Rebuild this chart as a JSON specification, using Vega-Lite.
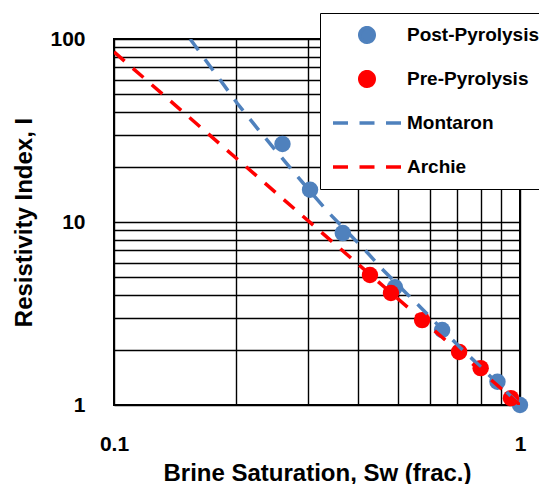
{
  "$schema": "https://vega.github.io/schema/vega-lite/v6.json",
  "width": 406,
  "height": 366,
  "autosize": {"type": "none"},
  "padding": {"left": 114, "top": 39, "right": 19, "bottom": 79},
  "background": "white",
  "config": {
    "font": "Liberation Sans",
    "view": {"stroke": "black", "strokeWidth": 2}
  },
  "datasets": {
    "pts": [
      {"sw": 0.26, "ri": 26.7, "series": "Post-Pyrolysis"},
      {"sw": 0.304, "ri": 15.0, "series": "Post-Pyrolysis"},
      {"sw": 0.366, "ri": 8.7, "series": "Post-Pyrolysis"},
      {"sw": 0.492, "ri": 4.4, "series": "Post-Pyrolysis"},
      {"sw": 0.643, "ri": 2.57, "series": "Post-Pyrolysis"},
      {"sw": 0.88, "ri": 1.34, "series": "Post-Pyrolysis"},
      {"sw": 1.0, "ri": 1.0, "series": "Post-Pyrolysis"},
      {"sw": 0.427, "ri": 5.13, "series": "Pre-Pyrolysis"},
      {"sw": 0.481, "ri": 4.09, "series": "Pre-Pyrolysis"},
      {"sw": 0.574, "ri": 2.91, "series": "Pre-Pyrolysis"},
      {"sw": 0.708, "ri": 1.95, "series": "Pre-Pyrolysis"},
      {"sw": 0.8, "ri": 1.59, "series": "Pre-Pyrolysis"},
      {"sw": 0.95, "ri": 1.09, "series": "Pre-Pyrolysis"}
    ],
    "fits": [
      {"sw": 0.154, "ri": 100, "series": "Montaron"},
      {"sw": 0.2009, "ri": 44.7, "series": "Montaron"},
      {"sw": 0.2262, "ri": 32.2, "series": "Montaron"},
      {"sw": 0.2745, "ri": 19.2, "series": "Montaron"},
      {"sw": 0.3365, "ri": 11.34, "series": "Montaron"},
      {"sw": 0.415, "ri": 7.03, "series": "Montaron"},
      {"sw": 0.46, "ri": 5.47, "series": "Montaron"},
      {"sw": 0.518, "ri": 4.2, "series": "Montaron"},
      {"sw": 0.571, "ri": 3.39, "series": "Montaron"},
      {"sw": 0.714, "ri": 2.05, "series": "Montaron"},
      {"sw": 0.806, "ri": 1.59, "series": "Montaron"},
      {"sw": 1.0, "ri": 1.0, "series": "Montaron"},
      {"sw": 0.1, "ri": 85, "series": "Archie"},
      {"sw": 1.0, "ri": 1.0, "series": "Archie"}
    ]
  },
  "encoding": {
    "x": {
      "field": "sw",
      "type": "quantitative",
      "scale": {"type": "log", "domain": [0.1, 1], "nice": false},
      "axis": {
        "title": "Brine Saturation, Sw (frac.)",
        "values": [0.1, 0.2, 0.3, 0.4, 0.5, 0.6, 0.7, 0.8, 0.9, 1.0],
        "labelExpr": "datum.value == 1 ? '1' : (datum.value == 0.1 ? '0.1' : '')",
        "labelOverlap": false,
        "labelFlush": false,
        "ticks": false,
        "domain": false,
        "grid": true,
        "gridColor": "black",
        "gridOpacity": 1,
        "gridWidth": 1.4,
        "labelPadding": 28,
        "labelFontSize": 21,
        "labelFontWeight": "bold",
        "labelColor": "black",
        "titleFontSize": 24,
        "titleFontWeight": "bold",
        "titleColor": "black",
        "titlePadding": 7
      }
    },
    "y": {
      "field": "ri",
      "type": "quantitative",
      "scale": {"type": "log", "domain": [1, 100], "nice": false},
      "axis": {
        "title": "Resistivity Index, I",
        "values": [1, 2, 3, 4, 5, 6, 7, 8, 9, 10, 20, 30, 40, 50, 60, 70, 80, 90, 100],
        "labelExpr": "datum.value == 1 ? '1' : (datum.value == 10 ? '10' : (datum.value == 100 ? '100' : ''))",
        "labelOverlap": false,
        "labelFlush": false,
        "ticks": false,
        "domain": false,
        "grid": true,
        "gridColor": "black",
        "gridOpacity": 1,
        "gridWidth": 1.4,
        "labelPadding": 29,
        "labelFontSize": 21,
        "labelFontWeight": "bold",
        "labelColor": "black",
        "titleFontSize": 24,
        "titleFontWeight": "bold",
        "titleColor": "black",
        "titlePadding": 13
      }
    },
    "color": {
      "field": "series",
      "type": "nominal",
      "scale": {
        "domain": ["Post-Pyrolysis", "Pre-Pyrolysis", "Montaron", "Archie"],
        "range": ["#4F81BD", "#FF0000", "#4F81BD", "#FF0000"]
      },
      "legend": {
        "title": null,
        "orient": "none",
        "legendX": 206,
        "legendY": -26,
        "direction": "vertical",
        "columns": 1,
        "fillColor": "white",
        "strokeColor": "black",
        "padding": 5,
        "clipHeight": 34,
        "rowPadding": 10,
        "symbolSize": 4624,
        "symbolStrokeWidth": 3.5,
        "symbolOffset": 6,
        "labelOffset": 4,
        "labelFont": "Liberation Sans",
        "labelFontSize": 19,
        "labelFontWeight": "bold",
        "labelColor": "black",
        "labelLimit": 300,
        "encode": {
          "symbols": {
            "update": {
              "shape": {"signal": "(datum.value == 'Montaron' || datum.value == 'Archie') ? 'stroke' : 'M0.2132,0C0.2132,0.1178,0.1178,0.2132,0,0.2132C-0.1178,0.2132,-0.2132,0.1178,-0.2132,0C-0.2132,-0.1178,-0.1178,-0.2132,0,-0.2132C0.1178,-0.2132,0.2132,-0.1178,0.2132,0Z'"},
              "fill": {"signal": "datum.value == 'Post-Pyrolysis' ? '#4F81BD' : (datum.value == 'Pre-Pyrolysis' ? '#FF0000' : 'transparent')"},
              "stroke": {"signal": "(datum.value == 'Post-Pyrolysis' || datum.value == 'Montaron') ? '#4F81BD' : '#FF0000'"},
              "strokeDash": {"signal": "(datum.value == 'Montaron' || datum.value == 'Archie') ? [15, 11.5] : [1, 0]"},
              "strokeWidth": {"value": 3.5},
              "size": {"value": 4624},
              "opacity": {"value": 1}
            }
          }
        }
      }
    }
  },
  "layer": [
    {
      "data": {"name": "pts"},
      "transform": [{"filter": "datum.series == 'Post-Pyrolysis'"}],
      "mark": {"type": "point", "filled": true, "size": 270, "opacity": 1, "clip": false}
    },
    {
      "data": {"name": "pts"},
      "transform": [{"filter": "datum.series == 'Pre-Pyrolysis'"}],
      "mark": {"type": "point", "filled": true, "size": 270, "opacity": 1, "clip": false}
    },
    {
      "data": {"name": "fits"},
      "transform": [{"filter": "datum.series == 'Montaron'"}],
      "mark": {"type": "line", "strokeDash": [14, 11], "strokeWidth": 3.5, "clip": true}
    },
    {
      "data": {"name": "fits"},
      "transform": [{"filter": "datum.series == 'Archie'"}],
      "mark": {"type": "line", "strokeDash": [14, 11], "strokeWidth": 3.5, "clip": true}
    }
  ]
}
